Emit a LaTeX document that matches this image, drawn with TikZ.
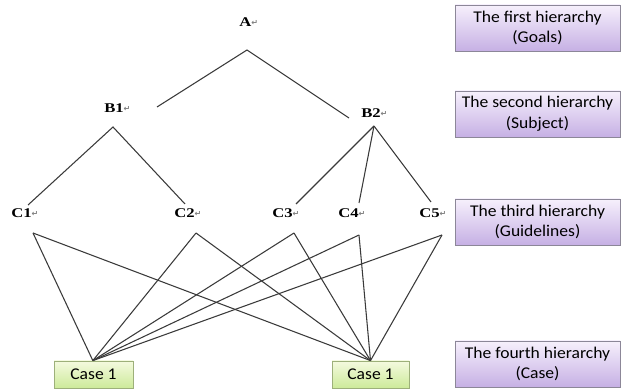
\documentclass[tikz,border=0pt]{standalone}
\usepackage{fontspec}
\setmainfont{Liberation Serif}
\newfontfamily\calib{Carlito}
\newfontfamily\dvs{DejaVu Sans}
\usetikzlibrary{shadows}
\definecolor{linegray}{HTML}{3A3A3A}
\definecolor{purptop}{HTML}{F6F0FC}
\definecolor{purpbot}{HTML}{C6B0E4}
\definecolor{purpedge}{HTML}{8C8798}
\definecolor{greentop}{HTML}{F4FADF}
\definecolor{greenbot}{HTML}{CDEA9A}
\definecolor{greenedge}{HTML}{9DB07A}
\newcommand{\retmark}{{\dvs\fontsize{6}{6}\selectfont\color{gray}\raisebox{0.3pt}{↵}}}
\newcommand{\lv}[1]{\scalebox{1.25}[1]{#1}\retmark}
\newcommand{\hx}[1]{\scalebox{1.07}[1]{#1}}
\tikzset{
  lvl/.style={font=\bfseries\fontsize{10}{11}\selectfont, inner sep=0pt, anchor=west},
  conn/.style={draw=linegray, line width=0.8pt},
  hier/.style={draw=purpedge, line width=0.6pt, top color=purptop, bottom color=purpbot,
    minimum width=165*0.75pt, minimum height=46*0.75pt, inner sep=1pt, align=center,
    font=\calib\fontsize{12.3}{15.5}\selectfont,
    drop shadow={shadow xshift=0.9pt, shadow yshift=-0.9pt, opacity=0.35, fill=gray}},
  casebox/.style={draw=greenedge, line width=0.6pt, top color=greentop, bottom color=greenbot,
    minimum height=27*0.75pt, inner sep=1pt, font=\calib\fontsize{12.3}{13}\selectfont,
    drop shadow={shadow xshift=0.8pt, shadow yshift=-0.8pt, opacity=0.3, fill=gray}}
}
\begin{document}
\begin{tikzpicture}[x=0.75pt,y=-0.75pt]
\useasboundingbox (0,0) rectangle (621,391);
% labels
\node[lvl] (A) at (239,22) {\lv{A}};
\node[lvl] (B1) at (104,108) {\lv{B1}};
\node[lvl] (B2) at (361,113) {\lv{B2}};
\node[lvl] (C1) at (11,213) {\lv{C1}};
\node[lvl] (C2) at (174,213) {\lv{C2}};
\node[lvl] (C3) at (272,213) {\lv{C3}};
\node[lvl] (C4) at (338,213) {\lv{C4}};
\node[lvl] (C5) at (419,213) {\lv{C5}};
% connector end points
\coordinate (a-bot) at (247,50);
\coordinate (b1-top) at (157,107);
\coordinate (b2-top) at (349,118);
\coordinate (b1-bot) at (113,127);
\coordinate (b2-bot) at (374,126);
\coordinate (c1-top) at (28,205);
\coordinate (c2-top) at (185,204);
\coordinate (c3-top) at (296,204);
\coordinate (c4-top) at (359,203);
\coordinate (c5-top) at (431,202);
\coordinate (c1-bot) at (33,233);
\coordinate (c2-bot) at (196,233);
\coordinate (c3-bot) at (294,233);
\coordinate (c4-bot) at (359,235);
\coordinate (c5-bot) at (442,235);
% case boxes
\node[casebox, minimum width=79*0.75pt] (K1) at (93.5,374.5) {\hx{Case 1}};
\node[casebox, minimum width=77*0.75pt] (K2) at (370.5,374.5) {\hx{Case 1}};
% hierarchy boxes
\node[hier] (H1) at (537.5,28) {\hx{The first hierarchy}\\\hx{(Goals)}};
\node[hier] (H2) at (537.5,114) {\hx{The second hierarchy}\\\hx{(Subject)}};
\node[hier] (H3) at (537.5,222) {\hx{The third hierarchy}\\\hx{(Guidelines)}};
\node[hier] (H4) at (537.5,364) {\hx{The fourth hierarchy}\\\hx{(Case)}};
% connectors
\draw[conn] (b1-top) -- (a-bot) -- (b2-top);
\draw[conn] (c1-top) -- (b1-bot) -- (c2-top);
\draw[conn] (b2-bot) -- (c3-top);
\draw[conn] (b2-bot) -- (c4-top);
\draw[conn] (b2-bot) -- (c5-top);
\foreach \c in {c1-bot,c2-bot,c3-bot,c4-bot,c5-bot}{
  \draw[conn] (\c) -- ([xshift=-0.5pt]K1.north);
  \draw[conn] (\c) -- (K2.north);
}
\end{tikzpicture}
\end{document}
